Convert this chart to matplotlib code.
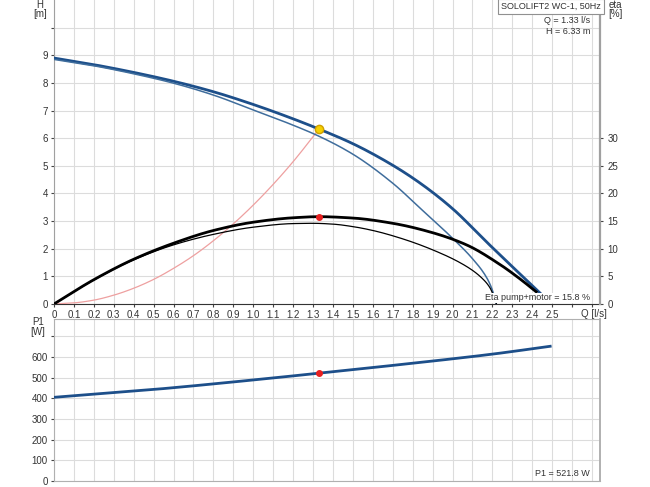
import numpy as np
import matplotlib.pyplot as plt

plt.rcParams['font.family'] = ['Liberation Sans', 'DejaVu Sans']

# head curves [m]
q_h = [0, 0.2, 0.4, 0.6, 0.8, 1.0, 1.2, 1.33, 1.5, 1.7, 1.84, 2.0, 2.17, 2.3, 2.44]
h_thick = [8.90, 8.66, 8.38, 8.06, 7.68, 7.22, 6.70, 6.33, 5.80, 5.02, 4.36, 3.45, 2.25, 1.35, 0.39]
q_h2 = [0, 0.2, 0.4, 0.6, 0.8, 1.0, 1.2, 1.33, 1.5, 1.7, 1.84, 2.0, 2.1, 2.17, 2.2, 2.22]
h_thin = [8.85, 8.62, 8.33, 7.99, 7.56, 7.02, 6.47, 6.07, 5.42, 4.37, 3.45, 2.38, 1.64, 0.97, 0.50, 0.0]

# efficiency curves [%]
q_eta = [0, 0.2, 0.4, 0.6, 0.8, 1.0, 1.2, 1.33, 1.5, 1.7, 1.9, 2.07, 2.24, 2.34, 2.42]
eta_thick = [0, 4.4, 8.1, 11.0, 13.3, 14.8, 15.6, 15.8, 15.55, 14.6, 12.9, 10.7, 7.1, 4.5, 2.2]
q_eta2 = [0, 0.2, 0.4, 0.6, 0.8, 1.0, 1.2, 1.3, 1.4, 1.5, 1.6, 1.74, 1.9, 2.07, 2.15, 2.19, 2.22]
eta_thin = [0, 4.35, 8.0, 10.7, 12.6, 13.9, 14.55, 14.6, 14.45, 14.0, 13.3, 11.9, 9.8, 6.8, 4.6, 2.8, 0.0]

# system curve
q_sys = [0, 0.1, 0.2, 0.3, 0.4, 0.5, 0.6, 0.7, 0.8, 0.9, 1.0, 1.1, 1.2, 1.33]
h_sys = [0, 0.04, 0.14, 0.32, 0.57, 0.89, 1.29, 1.75, 2.29, 2.90, 3.58, 4.33, 5.15, 6.33]

# power P1 [W]
q_p = [0, 0.5, 1.0, 1.33, 1.8, 2.2, 2.49]
p1 = [405, 443, 489, 521.8, 570, 614, 652]

q_duty, h_duty, eta_duty, p_duty = 1.33, 6.33, 15.8, 521.8


def pchip(x, y, n=300):
    # monotone cubic through the read-off points, just for smooth drawing
    x = np.asarray(x, float)
    y = np.asarray(y, float)
    h = np.diff(x)
    d = np.diff(y) / h
    m = np.zeros_like(y)
    for k in range(1, len(x) - 1):
        if d[k - 1] * d[k] > 0:
            w1 = 2 * h[k] + h[k - 1]
            w2 = h[k] + 2 * h[k - 1]
            m[k] = (w1 + w2) / (w1 / d[k - 1] + w2 / d[k])
    m[0] = d[0]
    m[-1] = d[-1]
    xs = np.linspace(x[0], x[-1], n)
    idx = np.clip(np.searchsorted(x, xs) - 1, 0, len(h) - 1)
    t = (xs - x[idx]) / h[idx]
    h00 = 2 * t**3 - 3 * t**2 + 1
    h10 = t**3 - 2 * t**2 + t
    h01 = -2 * t**3 + 3 * t**2
    h11 = t**3 - t**2
    ys = h00 * y[idx] + h10 * h[idx] * m[idx] + h01 * y[idx + 1] + h11 * h[idx] * m[idx + 1]
    return xs, ys


W, H = 650, 487
fig = plt.figure(figsize=(6.5, 4.87), dpi=100)

def fx(px):
    return px / W

def fy(py):
    return 1 - py / H

x0, x1 = 54, 600
ax = fig.add_axes([fx(x0), fy(304), fx(x1) - fx(x0), fy(0) - fy(304)])
ax2 = ax.twinx()
axp = fig.add_axes([fx(x0), fy(481), fx(x1) - fx(x0), fy(319) - fy(481)])

grid_c = '#dcdcdc'
spine_c = '#a0a0a0'
tc = '#333333'
fs = 7
fs_t = 6.5
xmax = 2.74
xt = np.round(np.arange(0, 2.75, 0.1), 1)

for a in (ax, axp):
    a.set_xlim(0, xmax)
    a.set_xticks(xt)
    a.grid(True, color=grid_c, lw=0.8)
    a.set_axisbelow(True)

ax.set_ylim(0, 11)
ax.set_yticks(range(11))
ax.set_yticklabels([str(i) for i in range(10)] + [''])
ax2.set_ylim(0, 55)
ax2.set_yticks([0, 5, 10, 15, 20, 25, 30])

ax.set_xticklabels(['0' if v == 0 else ('%.1f' % v if v <= 2.5 else '') for v in xt])
axp.set_xticklabels([])

ax.tick_params(axis='both', labelsize=fs, length=2.5, color='#444444', labelcolor=tc, pad=2)
ax2.tick_params(axis='y', labelsize=fs, length=2.5, color='#444444', labelcolor=tc, pad=3)
axp.tick_params(axis='both', labelsize=fs, length=2.5, color='#444444', labelcolor=tc, pad=2)
axp.tick_params(axis='x', length=0)

axp.set_ylim(0, 784)
axp.set_yticks(range(0, 800, 100))
axp.set_yticklabels([str(v) for v in range(0, 700, 100)] + [''])

ax.spines['top'].set_visible(False)
ax2.spines['top'].set_visible(False)
ax.spines['left'].set_color(spine_c)
ax.spines['bottom'].set_color('#333333')
ax2.spines['left'].set_visible(False)
ax2.spines['bottom'].set_visible(False)
ax2.spines['right'].set_color(spine_c)
ax2.spines['right'].set_linewidth(1.6)
ax.spines['right'].set_visible(False)
for s in axp.spines.values():
    s.set_color('#b0b0b0')
axp.spines['right'].set_linewidth(1.4)

blue = '#1d4f8a'
blue2 = '#3f6d9c'
ax.plot(*pchip(q_h, h_thick), color=blue, lw=2.0, zorder=4)
ax.plot(*pchip(q_h2, h_thin), color=blue2, lw=1.1, zorder=4)
ax.plot(*pchip(q_sys, h_sys), color='#eea0a0', lw=0.9, zorder=3)
ax2.plot(*pchip(q_eta, eta_thick), color='black', lw=2.0, zorder=4)
ax2.plot(*pchip(q_eta2, eta_thin), color='black', lw=0.9, zorder=4)
ax2.plot([q_duty], [eta_duty], 'o', color='#e82020', ms=4, zorder=6)
ax2.plot([q_duty], [h_duty * 5], 'o', mfc='#f5d000', mec='#d0a000', ms=6, zorder=7)

axp.plot(*pchip(q_p, p1), color=blue, lw=2.0, zorder=4)
axp.plot([q_duty], [p_duty], 'o', color='#e82020', ms=4, zorder=6)

fig.text(fx(40), fy(5), 'H', ha='center', va='center', fontsize=fs, color=tc)
fig.text(fx(40), fy(14), '[m]', ha='center', va='center', fontsize=fs, color=tc)
fig.text(fx(615), fy(5), 'eta', ha='center', va='center', fontsize=fs, color=tc)
fig.text(fx(615), fy(14), '[%]', ha='center', va='center', fontsize=fs, color=tc)
fig.text(fx(38), fy(322), 'P1', ha='center', va='center', fontsize=fs, color=tc)
fig.text(fx(38), fy(332), '[W]', ha='center', va='center', fontsize=fs, color=tc)
fig.text(fx(581), fy(314), 'Q [l/s]', ha='left', va='center', fontsize=fs, color=tc)

fig.text(fx(551), fy(6.5), 'SOLOLIFT2 WC-1, 50Hz', ha='center', va='center', fontsize=fs_t, color=tc,
         bbox=dict(boxstyle='square,pad=0.3', fc='white', ec='#909090', lw=0.8))
fig.text(fx(590), fy(20.5), 'Q = 1.33 l/s', ha='right', va='center', fontsize=fs_t, color=tc)
fig.text(fx(590), fy(31), 'H = 6.33 m', ha='right', va='center', fontsize=fs_t, color=tc)
fig.text(fx(590), fy(298), 'Eta pump+motor = 15.8 %', ha='right', va='center', fontsize=fs_t, color=tc,
         bbox=dict(boxstyle='square,pad=0.1', fc='white', ec='none'))
fig.text(fx(590), fy(473), 'P1 = 521.8 W', ha='right', va='center', fontsize=fs_t, color=tc)

fig.savefig('out.png', dpi=100)
